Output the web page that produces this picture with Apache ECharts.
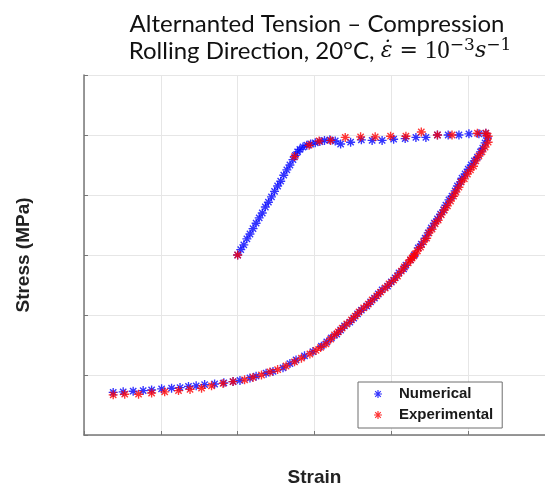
<!DOCTYPE html>
<html><head><meta charset="utf-8">
<script src="https://cdn.jsdelivr.net/npm/echarts@6/dist/echarts.min.js"></script>
<style>html,body{margin:0;padding:0;background:#fff}#c{width:545px;height:487px}</style>
</head><body><div id="c"></div>
<script>
// Numerical (simulation) strain / stress, in axis units (no tick labels shown in source)
const numStrain = [
  2.00,2.04,2.08,2.12,2.16,2.20,2.24,2.28,2.32,2.36,2.40,2.44,2.48,2.52,2.56,2.60,2.64,2.68,2.72,2.75,2.78,2.81,2.85,2.90,2.95,3.01,3.07,3.13,3.20,
  3.27,3.34,3.47,3.61,3.75,3.88,4.03,4.18,4.32,4.45,4.60,4.74,4.88,5.01,5.14,5.23,
  5.25,5.22,5.19,5.16,5.12,5.08,5.04,5.00,4.96,4.92,4.90,4.86,4.83,4.79,4.75,4.71,4.68,4.64,4.60,4.56,4.52,4.48,4.44,4.39,4.35,4.30,4.25,4.19,4.16,4.10,4.05,4.00,3.95,3.88,3.83,3.78,3.73,3.68,3.61,3.56,3.51,3.46,3.39,3.34,3.29,3.22,3.16,
  3.09,2.98,2.87,2.76,2.68,2.59,2.46,2.37,2.24,2.16,2.03,1.94,1.82,1.70,1.57,1.46,1.36,1.25,1.14,1.01,0.88,0.77,0.64,0.51,0.38
];
const numStress = [
  3.00,3.09,3.17,3.27,3.35,3.44,3.53,3.62,3.70,3.80,3.88,3.97,4.06,4.15,4.23,4.33,4.42,4.50,4.59,4.66,4.72,4.76,4.80,4.83,4.85,4.87,4.89,4.91,4.92,
  4.90,4.85,4.88,4.92,4.91,4.91,4.93,4.94,4.96,4.96,5.00,5.00,5.00,5.02,5.02,5.03,
  4.95,4.87,4.78,4.72,4.63,4.57,4.50,4.43,4.35,4.28,4.22,4.15,4.07,3.98,3.92,3.83,3.75,3.68,3.60,3.53,3.45,3.37,3.28,3.18,3.12,3.00,2.92,2.83,2.77,2.70,2.62,2.55,2.48,2.42,2.35,2.28,2.22,2.15,2.08,2.02,1.95,1.88,1.82,1.75,1.68,1.62,1.55,
  1.48,1.39,1.32,1.25,1.19,1.12,1.06,1.03,0.98,0.95,0.91,0.89,0.87,0.85,0.84,0.82,0.81,0.79,0.78,0.77,0.75,0.74,0.73,0.72,0.71
];
// Experimental strain / stress
const expStrain = [
  2.00,2.74,2.93,3.06,3.21,
  3.40,3.60,3.79,3.99,4.19,4.39,4.60,4.79,5.12,5.23,
  5.26,5.26,5.22,5.18,5.14,5.10,5.07,5.03,4.99,4.95,4.91,4.88,4.84,4.81,4.77,4.73,4.69,4.65,4.61,4.57,4.53,4.49,4.46,4.42,4.38,4.34,4.31,4.29,4.27,4.25,4.22,4.17,4.13,4.08,4.03,3.97,3.92,3.86,3.81,3.75,3.70,3.64,3.58,3.53,3.48,3.42,3.36,3.31,3.26,3.21,
  3.15,3.08,3.02,2.94,2.83,2.74,2.63,2.52,2.42,2.31,2.20,2.09,1.94,1.81,1.66,1.53,1.38,1.23,1.05,0.88,0.71,0.53,0.38
];
const expStress = [
  3.00,4.64,4.83,4.90,4.91,
  4.96,4.97,4.97,4.98,4.98,5.05,5.00,5.00,5.03,5.03,
  4.98,4.88,4.80,4.72,4.65,4.57,4.48,4.42,4.35,4.27,4.22,4.13,4.05,3.98,3.90,3.82,3.75,3.67,3.58,3.52,3.43,3.37,3.28,3.22,3.13,3.07,3.02,2.98,2.95,2.92,2.87,2.80,2.73,2.65,2.58,2.52,2.45,2.38,2.32,2.25,2.18,2.12,2.05,1.98,1.92,1.85,1.78,1.72,1.67,1.60,
  1.52,1.46,1.41,1.35,1.28,1.22,1.15,1.09,1.05,1.00,0.96,0.92,0.89,0.86,0.82,0.78,0.76,0.74,0.72,0.70,0.68,0.68,0.67
];
const seriesNames = ['Numerical', 'Experimental'];
const titleLine1 = 'Alternanted Tension – Compression';
const xName = 'Strain';
const yName = 'Stress (MPa)';

const star = 'path://M0 8.5L20 8.5L20 11.5L0 11.5Z M8.5 0L11.5 0L11.5 20L8.5 20Z M4.06 1.94L18.06 15.94L15.94 18.06L1.94 4.06Z M15.94 1.94L18.06 4.06L4.06 18.06L1.94 15.94Z';
const pairs = (a, b) => a.map((v, i) => [v, b[i]]);

const chart = echarts.init(document.getElementById('c'), null, {renderer: 'canvas'});
chart.setOption({
  animation: false,
  backgroundColor: '#fff',
  graphic: [
    {type: 'text', x: 317, y: 24, style: {text: titleLine1, font: '24px Lato', fill: '#111', align: 'center', textAlign: 'center', verticalAlign: 'middle', textVerticalAlign: 'middle'}},
    {type: 'text', x: 320, y: 51, style: {
      text: '{t|Rolling Direction, 20°C, }{mi|ε̇}{eq| = }{m|10}{sup|−3}{mi|s}{sup|−1}',
      align: 'center', textAlign: 'center', verticalAlign: 'middle', textVerticalAlign: 'middle',
      rich: {
        t: {fontFamily: 'Lato', fontSize: 24, fill: '#111', color: '#111', lineHeight: 28},
        mi: {fontFamily: 'DejaVu Serif', fontStyle: 'italic', fontSize: 22, fill: '#111', color: '#111', lineHeight: 28},
        eq: {fontFamily: 'DejaVu Serif', fontSize: 22, fill: '#111', color: '#111', lineHeight: 28},
        m: {fontFamily: 'Liberation Serif', fontSize: 25, fill: '#111', color: '#111', lineHeight: 28},
        sup: {fontFamily: 'DejaVu Serif', fontSize: 17, fill: '#111', color: '#111', lineHeight: 16, verticalAlign: 'top'}
      }
    }}
  ],
  grid: {left: 84, right: 0, top: 75, bottom: 52, outerBoundsMode: 'none', containLabel: false},
  legend: {
    orient: 'vertical', left: 358, top: 382,
    data: seriesNames.map(n => ({name: n, icon: star})),
    itemWidth: 8, itemHeight: 8, itemGap: 5,
    padding: [4, 9, 5, 16],
    borderColor: '#6e6e6e', borderWidth: 1, backgroundColor: '#fff', borderRadius: 0,
    textStyle: {fontFamily: 'Liberation Sans', fontWeight: 'bold', fontSize: 15, color: '#1a1a1a', lineHeight: 16, padding: [0, 0, 0, 12]}
  },
  xAxis: {
    type: 'value', min: 0, max: 6, interval: 1,
    name: xName, nameLocation: 'middle', nameGap: 33,
    nameTextStyle: {fontFamily: 'Liberation Sans', fontWeight: 'bold', fontSize: 19, color: '#222'},
    axisLabel: {show: false},
    axisTick: {show: true, inside: true, length: 4, lineStyle: {color: '#777'}},
    axisLine: {show: true, onZero: false, lineStyle: {color: '#777', width: 1.5}},
    splitLine: {show: true, lineStyle: {color: '#e6e6e6', width: 1}}
  },
  yAxis: {
    type: 'value', min: 0, max: 6, interval: 1,
    name: yName, nameLocation: 'middle', nameGap: 51,
    nameTextStyle: {fontFamily: 'Liberation Sans', fontWeight: 'bold', fontSize: 19, color: '#222'},
    axisLabel: {show: false},
    axisTick: {show: true, inside: true, length: 4, lineStyle: {color: '#777'}},
    axisLine: {show: true, onZero: false, lineStyle: {color: '#777', width: 1.5}},
    splitLine: {show: true, lineStyle: {color: '#e6e6e6', width: 1}}
  },
  series: [
    {name: seriesNames[0], type: 'scatter', data: pairs(numStrain, numStress), symbol: star, symbolSize: 9,
     itemStyle: {color: '#0000ff', opacity: 0.8}},
    {name: seriesNames[1], type: 'scatter', data: pairs(expStrain, expStress), symbol: star, symbolSize: 9,
     itemStyle: {color: '#ff0000', opacity: 0.8}}
  ]
});
</script></body></html>
